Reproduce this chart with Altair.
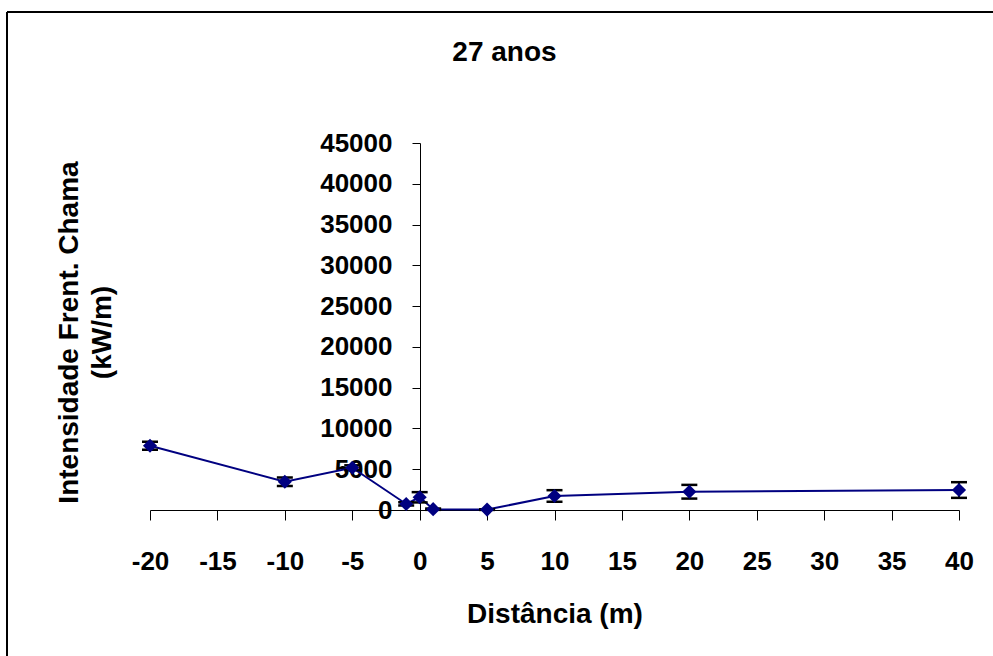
import altair as alt
import pandas as pd

# Flame-front intensity by distance, 27-year stand
distancia = [-20, -10, -5, -1, 0, 1, 5, 10, 20, 40]
intensidade = [7880, 3470, 5180, 740, 1560, 100, 50, 1720, 2240, 2450]
erro = [490, 530, 300, 200, 630, 80, 40, 710, 840, 960]

x_ticks = list(range(-20, 45, 5))
y_ticks = list(range(0, 50000, 5000))

df = pd.DataFrame({"dist": distancia, "val": intensidade, "err": erro})
df["lo"] = df["val"] - df["err"]
df["hi"] = df["val"] + df["err"]

FONT = "Liberation Sans"
NAVY = "#000080"

x_enc = alt.X(
    "dist:Q",
    scale=alt.Scale(domain=[-20, 40], nice=False, zero=False),
    axis=alt.Axis(
        values=x_ticks,
        labelExpr="'' + datum.value",
        title="Distância (m)",
        grid=False,
        domainColor="#000000",
        domainWidth=1,
        tickColor="#000000",
        tickSize=10,
        labelPadding=28,
        labelFontSize=26,
        labelFontWeight="bold",
        labelColor="#000000",
        labelFont=FONT,
        labelFlush=False,
        labelOverlap=False,
        titleFontSize=28,
        titleFontWeight="bold",
        titleFont=FONT,
        titleColor="#000000",
        titlePadding=26,
    ),
)

y_enc = alt.Y(
    "val:Q",
    scale=alt.Scale(domain=[0, 45000], nice=False),
    axis=alt.Axis(
        values=y_ticks,
        format="d",
        offset=-270,
        title=["Intensidade Frent. Chama", "(kW/m)"],
        titleAngle=-90,
        titleX=-351,
        titleY=189,
        titleAlign="center",
        titleBaseline="middle",
        titleLineHeight=33,
        titleFontSize=28,
        titleFontWeight="bold",
        titleFont=FONT,
        titleColor="#000000",
        grid=False,
        domainColor="#000000",
        tickColor="#000000",
        tickSize=8,
        labelPadding=20,
        labelFontSize=26,
        labelFontWeight="bold",
        labelFont=FONT,
        labelColor="#000000",
        labelOverlap=False,
        labelFlush=False,
    ),
)

base = alt.Chart(df)

linha = base.mark_line(color=NAVY, strokeWidth=2).encode(x=x_enc, y=y_enc)

barras = base.mark_rule(color="#000000", strokeWidth=2).encode(
    x="dist:Q", y="lo:Q", y2="hi:Q"
)
topo = base.mark_tick(
    color="#000000", thickness=2.5, size=16, orient="horizontal", opacity=1
).encode(x="dist:Q", y="hi:Q")
base_tick = base.mark_tick(
    color="#000000", thickness=2.5, size=16, orient="horizontal", opacity=1
).encode(x="dist:Q", y="lo:Q")

pontos = base.mark_point(
    shape="diamond", filled=True, color=NAVY, size=200, opacity=1
).encode(x="dist:Q", y="val:Q")

# frame lines of the chart area (left and top edges)
moldura_esq = alt.Chart(df).mark_rule(color="#000000", strokeWidth=1.5, clip=False).encode(
    x=alt.value(-143), y=alt.value(-131), y2=alt.value(520)
)
moldura_topo = alt.Chart(df).mark_rule(color="#000000", strokeWidth=1.5, clip=False).encode(
    x=alt.value(-143), x2=alt.value(850), y=alt.value(-131)
)

chart = (
    alt.layer(linha, barras, topo, base_tick, pontos, moldura_esq, moldura_topo)
    .properties(
        width=809,
        height=367,
        title=alt.TitleParams(
            "27 anos",
            fontSize=28,
            fontWeight="bold",
            font=FONT,
            color="#000000",
            anchor="middle",
            frame="group",
            dx=-50,
            offset=-56,
        ),
        autosize=alt.AutoSizeParams(type="none"),
        padding={"left": 150, "top": 143, "right": 34, "bottom": 146},
    )
    .configure(background="#ffffff", view=alt.ViewConfig(strokeWidth=0, stroke="transparent"))
)

chart.save("out.html", embed_options={"renderer": "svg", "actions": False})
